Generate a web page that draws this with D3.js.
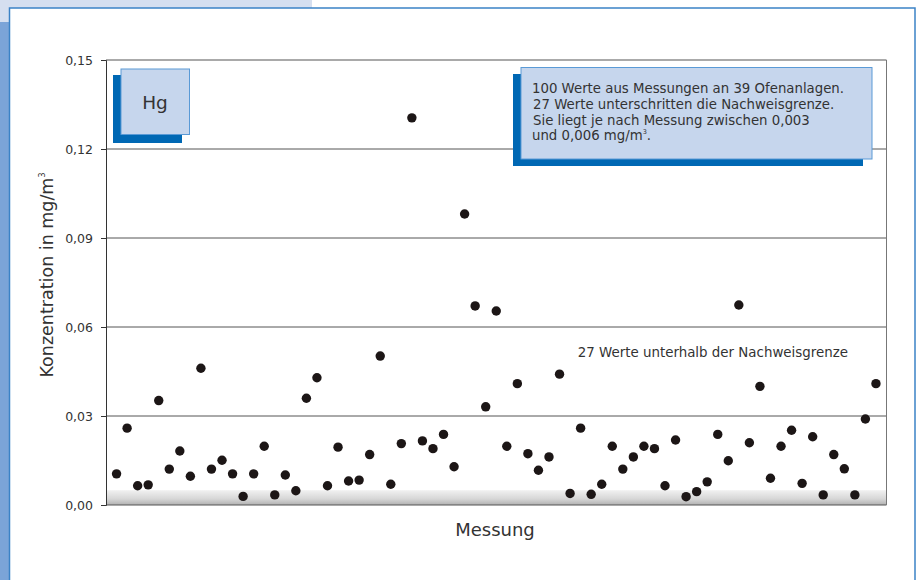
<!DOCTYPE html>
<html><head><meta charset="utf-8">
<script src="https://cdn.jsdelivr.net/npm/d3@7"></script>
<style>
html,body{margin:0;padding:0;background:#fff;}
svg{display:block;font-family:"DejaVu Sans",sans-serif;}
</style></head>
<body><svg id="c" width="920" height="580"></svg>
<script>
// ---- data ----
const measurements = [
 0.0105,0.0259,0.0065,0.0068,0.0352,0.0121,0.0182,0.0097,0.0461,0.0121,
 0.0151,0.0105,0.0029,0.0105,0.0198,0.0034,0.0101,0.0048,0.0360,0.0429,
 0.0065,0.0195,0.0081,0.0084,0.0170,0.0502,0.0070,0.0207,0.1305,0.0216,
 0.0190,0.0238,0.0129,0.0981,0.0671,0.0331,0.0654,0.0198,0.0409,0.0173,
 0.0117,0.0162,0.0441,0.0039,0.0259,0.0036,0.0070,0.0198,0.0121,0.0162,
 0.0198,0.0190,0.0065,0.0219,0.0028,0.0045,0.0078,0.0238,0.0149,0.0674,
 0.0210,0.0400,0.0090,0.0198,0.0252,0.0073,0.0230,0.0034,0.0170,0.0122,
 0.0034,0.0290,0.0409
];
const yTicks = [0, 0.03, 0.06, 0.09, 0.12, 0.15];
const yTickLabels = ["0,00","0,03","0,06","0,09","0,12","0,15"];
const detectionBand = [0, 0.005];
const element = "Hg";
const infoLines = [
 "100 Werte aus Messungen an 39 Ofenanlagen.",
 "27 Werte unterschritten die Nachweisgrenze.",
 "Sie liegt je nach Messung zwischen 0,003",
 "und 0,006 mg/m"
];
const belowLimitNote = "27 Werte unterhalb der Nachweisgrenze";
const yTitle = "Konzentration in mg/m";
const xTitle = "Messung";

// ---- drawing ----
const svg = d3.select("#c");
const L = 106, R = 886.5, T = 60, B = 505;
const x = d3.scaleLinear().domain([-1, measurements.length]).range([L, R]);
const y = d3.scaleLinear().domain([0, 0.15]).range([B, T]);

// page decorations
svg.append("rect").attr("x",0).attr("y",0).attr("width",312).attr("height",8).attr("fill","#d5dff0");
svg.append("rect").attr("x",0).attr("y",0).attr("width",9).attr("height",22).attr("fill","#d5dff0");
svg.append("rect").attr("x",0).attr("y",22).attr("width",9).attr("height",560).attr("fill","#7ba4d8");
svg.append("rect").attr("x",9.5).attr("y",8).attr("width",905.5).attr("height",580)
  .attr("fill","#fff").attr("stroke","#3b82c6").attr("stroke-width",1.5);

// gradient band
const defs = svg.append("defs");
const g = defs.append("linearGradient").attr("id","band").attr("x1",0).attr("y1",0).attr("x2",0).attr("y2",1);
g.append("stop").attr("offset","0%").attr("stop-color","#f1f1f1");
g.append("stop").attr("offset","60%").attr("stop-color","#d6d6d6");
g.append("stop").attr("offset","100%").attr("stop-color","#b0b0b0");
svg.append("rect").attr("x",L).attr("width",R-L)
  .attr("y",y(detectionBand[1])).attr("height",y(detectionBand[0])-y(detectionBand[1]))
  .attr("fill","url(#band)");

// grid lines
svg.append("g").selectAll("line").data(yTicks).join("line")
  .attr("x1",L).attr("x2",R).attr("y1",d=>y(d)).attr("y2",d=>y(d))
  .attr("stroke", "#555").attr("stroke-width",1);
// right border
svg.append("line").attr("x1",R).attr("x2",R).attr("y1",T).attr("y2",B).attr("stroke","#777").attr("stroke-width",1);

// y axis
const yAxis = d3.axisLeft(y).tickValues(yTicks).tickSize(5).tickPadding(8)
  .tickFormat((d,i)=>yTickLabels[i]);
const ya = svg.append("g").attr("transform",`translate(${L},0)`).call(yAxis);
ya.select(".domain").attr("stroke","#333");
ya.selectAll(".tick line").attr("stroke","#333");
ya.selectAll(".tick text").attr("fill","#333").style("font-size","12.5px").style("font-family","'DejaVu Sans',sans-serif");

// points
svg.append("g").selectAll("circle").data(measurements).join("circle")
  .attr("cx",(d,i)=>x(i)).attr("cy",d=>y(d)).attr("r",4.7).attr("fill","#1c1616");

// axis titles
const yt = svg.append("text").attr("transform","translate(53,275) rotate(-90)")
  .attr("text-anchor","middle").attr("fill","#333").style("font-size","17.5px");
yt.append("tspan").text(yTitle);
yt.append("tspan").text("3").style("font-size","8px").attr("dy",-8);
svg.append("text").attr("x",495).attr("y",536).attr("text-anchor","middle")
  .attr("fill","#333").style("font-size","18px").text(xTitle);

// below-limit note
svg.append("text").attr("x",848).attr("y",357).attr("text-anchor","end")
  .attr("fill","#333").style("font-size","13.4px").text(belowLimitNote);

// Hg box
svg.append("rect").attr("x",113).attr("y",75).attr("width",69).attr("height",68).attr("fill","#0068b4");
svg.append("rect").attr("x",121).attr("y",69).attr("width",68.5).attr("height",65.5)
  .attr("fill","#c6d6ed").attr("stroke","#5a9ad6").attr("stroke-width",1);
svg.append("text").attr("x",155).attr("y",109).attr("text-anchor","middle")
  .attr("fill","#333").style("font-size","18.5px").text(element);

// info box
svg.append("rect").attr("x",513).attr("y",74).attr("width",350).attr("height",92).attr("fill","#0068b4");
svg.append("rect").attr("x",521).attr("y",67.5).attr("width",351).attr("height",91.5)
  .attr("fill","#c6d6ed").attr("stroke","#5a9ad6").attr("stroke-width",1);
infoLines.forEach((t,i)=>{
  const tx = svg.append("text").attr("fill","#333").style("font-size","13.3px")
    .attr("x", i===0||i===3 ? 532 : 533).attr("y",93+i*15.8);
  tx.append("tspan").text(t);
  if (i === infoLines.length-1) {
    tx.append("tspan").text("3").style("font-size","6.5px").attr("dy",-6);
    tx.append("tspan").text(".").attr("dy",6);
  }
});
</script></body></html>
